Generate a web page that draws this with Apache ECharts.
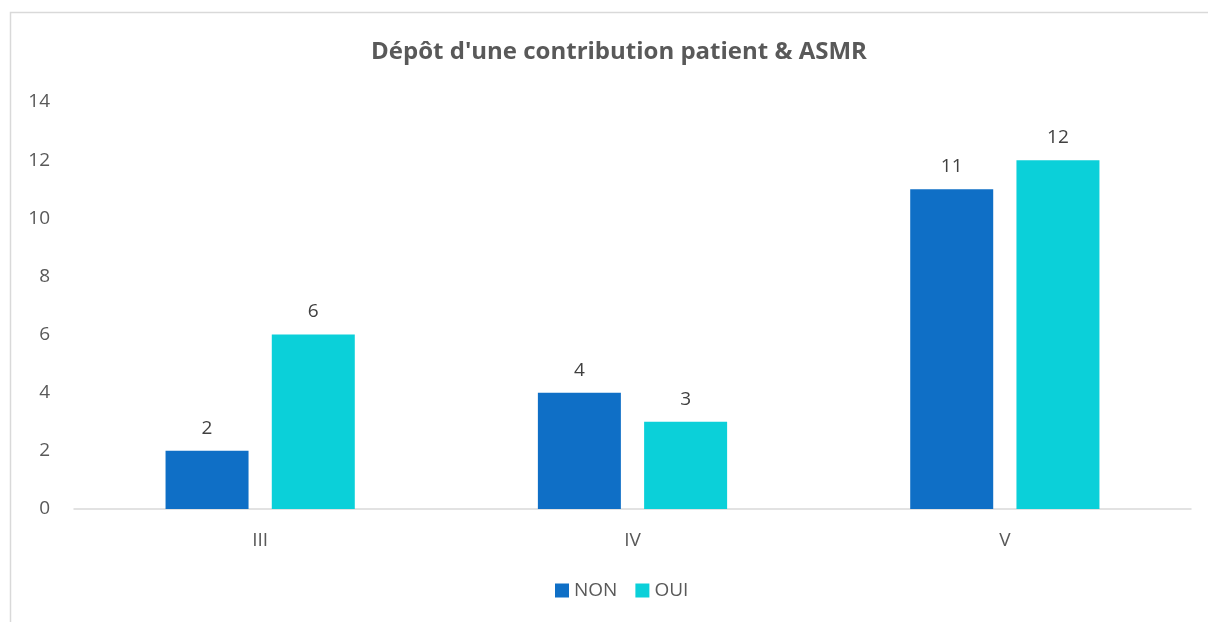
<!DOCTYPE html>
<html lang="fr">
  <head>
    <meta charset="UTF-8" />
    <title>Dépôt d'une contribution patient & ASMR</title>
    <script src="https://cdn.jsdelivr.net/npm/echarts@6/dist/echarts.min.js"></script>
    <style>
      html, body { margin: 0; padding: 0; background: #fff; }
      #main { width: 1208px; height: 622px; }
    </style>
  </head>
  <body>
    <div id="main"></div>
    <script>
      const categories = ["III", "IV", "V"];
      const nonValues = [2, 4, 11];
      const ouiValues = [6, 3, 12];
      const yTicks = [0, 2, 4, 6, 8, 10, 12, 14];

      const font = "'Open Sans', 'Noto Sans', sans-serif";
      let chart = echarts.init(document.getElementById("main"));

      let options = {
        backgroundColor: "#fff",
        textStyle: { fontFamily: font },
        animation: false,
        graphic: [
          {
            type: "rect",
            shape: { x: 10.5, y: 12.5, width: 1300, height: 700 },
            style: { fill: "none", stroke: "#d9d9d9", lineWidth: 1.5 },
            silent: true,
          },
        ],
        title: {
          text: "Dépôt d'une contribution patient & ASMR",
          left: 614,
          textAlign: "center",
          top: 35,
          textStyle: { color: "#595959", fontSize: 24, fontWeight: "bold", fontFamily: font },
        },
        legend: {
          bottom: 17,
          left: 550,
          itemWidth: 14,
          itemHeight: 14,
          itemGap: 18,
          icon: "rect",
          textStyle: { color: "#595959", fontSize: 19, fontFamily: font },
          data: ["NON", "OUI"],
        },
        grid: { left: 74, right: 17, top: 102, bottom: 113, containLabel: false },
        xAxis: {
          type: "category",
          data: categories,
          axisLine: { lineStyle: { color: "#d9d9d9", width: 1.5 } },
          axisTick: { show: false },
          axisLabel: { color: "#595959", fontSize: 19, margin: 22, fontFamily: font },
        },
        yAxis: {
          type: "value",
          min: yTicks[0],
          max: yTicks[yTicks.length - 1],
          interval: 2,
          splitLine: { show: false },
          axisLine: { show: false },
          axisTick: { show: false },
          axisLabel: { color: "#595959", fontSize: 19, margin: 24, fontFamily: font },
        },
        series: [
          {
            name: "NON",
            type: "bar",
            data: nonValues,
            barWidth: 83,
            barGap: "28%",
            itemStyle: { color: "#0F6FC6" },
            label: { show: true, position: "top", distance: 13, color: "#404040", fontSize: 19, fontFamily: font },
          },
          {
            name: "OUI",
            type: "bar",
            data: ouiValues,
            barWidth: 83,
            itemStyle: { color: "#0BD0D9" },
            label: { show: true, position: "top", distance: 13, color: "#404040", fontSize: 19, fontFamily: font },
          },
        ],
      };

      chart.setOption(options);
    </script>
  </body>
</html>
